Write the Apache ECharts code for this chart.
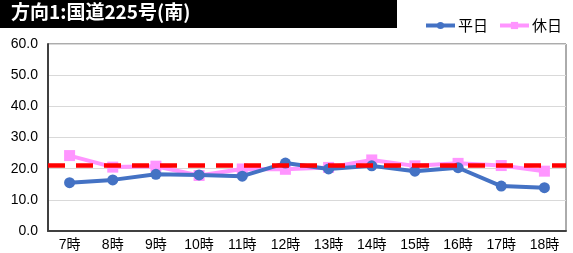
<!DOCTYPE html>
<html><head><meta charset="utf-8">
<script src="https://cdn.jsdelivr.net/npm/echarts@6/dist/echarts.min.js"></script>
<style>html,body{margin:0;padding:0;background:#fff}#c{width:573px;height:253px}</style>
</head><body><div id="c"></div>
<script>
var categories = ['7時','8時','9時','10時','11時','12時','13時','14時','15時','16時','17時','18時'];
var weekday = [15.5,16.4,18.2,18.0,17.6,21.8,19.9,20.9,19.2,20.3,14.4,13.9];
var holiday = [24.2,20.5,20.8,17.8,19.9,19.8,20.4,22.8,20.9,21.7,21.0,19.2];
var refValue = 21.0;
var titleText = '方向1:国道225号(南)';
var font = '"Noto Sans CJK JP", "Noto Sans", sans-serif';
var numFont = '"Liberation Sans", "Noto Sans CJK JP", sans-serif';
var chart = echarts.init(document.getElementById('c'));
chart.setOption({
  animation: false,
  graphic: [
    {type:'rect', left:0, top:0, shape:{width:397, height:28}, style:{fill:'#000'}},
    {type:'text', left:11, top:2, style:{text:titleText, fill:'#fff', font:'bold 19px ' + font}}
  ],
  legend: {
    right: 6, top: 13, itemWidth: 29, itemHeight: 9, itemGap: 10,
    lineStyle: {width: 4},
    textStyle: {fontFamily: font, fontSize: 15, color: '#000', padding:[0,0,0,-2]},
    data: ['平日', '休日']
  },
  grid: {left: 48, right: 7, top: 44, bottom: 22, show: true, borderColor: '#595959', borderWidth: 1},
  xAxis: {
    type: 'category', data: categories, boundaryGap: true,
    axisLine: {show: true, lineStyle: {color: '#404040', width: 2}},
    axisTick: {show: false},
    axisLabel: {color: '#000', fontFamily: numFont, fontSize: 14, margin: 7}
  },
  yAxis: {
    type: 'value', min: 0, max: 60, interval: 10,
    axisLine: {show: true, lineStyle: {color: '#404040', width: 2}},
    axisTick: {show: false},
    splitLine: {lineStyle: {color: '#d9d9d9', width: 1}},
    axisLabel: {color: '#000', fontFamily: numFont, fontSize: 14, margin: 10,
      formatter: function(v){return v.toFixed(1);}}
  },
  series: [
    {name:'休日', type:'line', data: holiday, symbol:'rect', symbolSize: 11,
     lineStyle:{color:'#FF95FF', width:4}, itemStyle:{color:'#FF95FF'}, z: 2},
    {name:'平日', type:'line', data: weekday, symbol:'circle', symbolSize: 11,
     lineStyle:{color:'#4472C4', width:4}, itemStyle:{color:'#4472C4'}, z: 3},
    {name:'基準', type:'line', data: [], z: 4,
     markLine: {silent:true, z: 5, symbol:'none', label:{show:false},
       lineStyle:{color:'#FF0000', width:4.5, type:[17,11]},
       data:[{yAxis: refValue}]}}
  ]
});
</script></body></html>
